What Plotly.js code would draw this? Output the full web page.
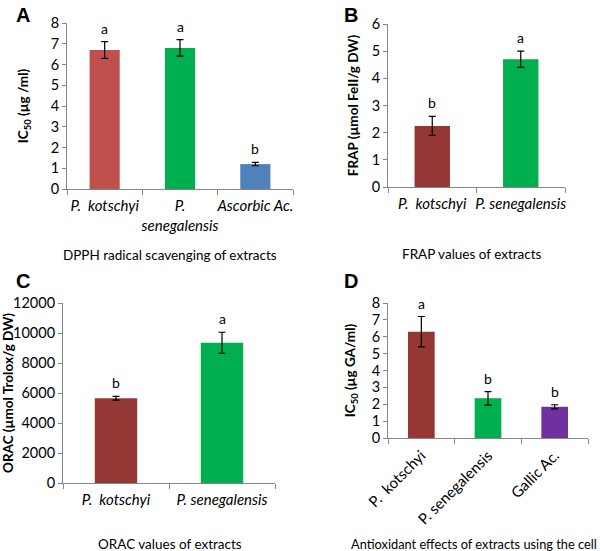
<!DOCTYPE html>
<html><head><meta charset="utf-8">
<script src="https://cdn.plot.ly/plotly-3.0.1.min.js"></script>
<style>html,body{margin:0;padding:0;background:#fff}</style>
</head><body>
<div id="chart" style="width:600px;height:551px"></div>
<script>
// Panel A: DPPH
const catsA = ['P.\u00a0 kotschyi', 'P.<br>senegalensis', 'Ascorbic Ac.'];
const valsA = [6.7, 6.8, 1.2];
const errA = [0.4, 0.4, 0.08];
const lettersA = ['a', 'a', 'b'];
const colorsA = ['#C0504D', '#00B050', '#4F81BD'];
// Panel B: FRAP
const catsB = ['P.\u00a0 kotschyi', 'P. senegalensis'];
const valsB = [2.25, 4.7];
const errB = [0.35, 0.3];
const lettersB = ['b', 'a'];
const colorsB = ['#953735', '#00B050'];
// Panel C: ORAC
const catsC = ['P.\u00a0 kotschyi', 'P. senegalensis'];
const valsC = [5650, 9350];
const errC = [130, 700];
const lettersC = ['b', 'a'];
const colorsC = ['#953735', '#00B050'];
// Panel D: cell antioxidant
const catsD = ['P.\u00a0 kotschyi', 'P. senegalensis', 'Gallic Ac.'];
const valsD = [6.3, 2.35, 1.85];
const errD = [0.9, 0.4, 0.12];
const lettersD = ['a', 'b', 'b'];
const colorsD = ['#953735', '#00B050', '#7030A0'];

const FONT = 'Lato, "Open Sans", sans-serif';
const W = 600, H = 551;
function dx(a, b) { return [a / W, b / W]; }
function dy(top, bottom) { return [1 - bottom / H, 1 - top / H]; }

const panels = [
  {cats: catsA, vals: valsA, err: errA, letters: lettersA, colors: colorsA, xa: 'x', ya: 'y',
   xd: dx(67, 293), yd: dy(23, 189), range: [0, 8], dtick: 1, standoff: 18,
   ytitle: '<b>IC<sub>50</sub> (µg /ml)</b>', tickangle: 0, italic: true},
  {cats: catsB, vals: valsB, err: errB, letters: lettersB, colors: colorsB, xa: 'x2', ya: 'y2',
   xd: dx(388, 565), yd: dy(24, 187), range: [0, 6], dtick: 1, standoff: 9,
   ytitle: '<b>FRAP (µmol FeII/g DW)</b>', tickangle: 0, italic: true},
  {cats: catsC, vals: valsC, err: errC, letters: lettersC, colors: colorsC, xa: 'x3', ya: 'y3',
   xd: dx(63, 275), yd: dy(303, 483), range: [0, 12000], dtick: 2000, standoff: 4,
   ytitle: '<b>ORAC (µmol Trolox/g DW)</b>', tickangle: 0, italic: true},
  {cats: catsD, vals: valsD, err: errD, letters: lettersD, colors: colorsD, xa: 'x4', ya: 'y4',
   xd: dx(388, 588), yd: dy(303, 438), range: [0, 8], dtick: 1, standoff: 12,
   ytitle: '<b>IC<sub>50</sub> (µg GA/ml)</b>', tickangle: -45, italic: false}
];

const data = [];
const layout = {
  width: W, height: H, margin: {l: 0, r: 0, t: 0, b: 0},
  paper_bgcolor: '#fff', plot_bgcolor: '#fff',
  showlegend: false, bargap: 0.6,
  font: {family: FONT, size: 14, color: '#000'},
  annotations: []
};

panels.forEach((p, i) => {
  const n = i === 0 ? '' : String(i + 1);
  data.push({
    type: 'bar', x: p.cats, y: p.vals, xaxis: p.xa, yaxis: p.ya,
    marker: {color: p.colors, line: {width: 0}},
    error_y: {type: 'data', array: p.err, visible: true, color: '#000', thickness: 1.2, width: 3.5},
    hoverinfo: 'skip'
  });
  layout['xaxis' + n] = {
    domain: p.xd, anchor: 'y' + n, type: 'category',
    showline: true, linecolor: '#868686', linewidth: 1,
    ticks: 'outside', tickson: 'boundaries', ticklen: 5, tickcolor: '#868686',
    tickangle: p.tickangle, showgrid: false, zeroline: false,
    ticklabelstandoff: p.italic ? 3 : 2,
    tickfont: {family: FONT, size: 15, style: p.italic ? 'italic' : 'normal', color: '#000'}
  };
  layout['yaxis' + n] = {
    domain: p.yd, anchor: 'x' + n, range: p.range, dtick: p.dtick,
    tickformat: 'd', exponentformat: 'none',
    showline: true, linecolor: '#868686', linewidth: 1,
    ticks: 'outside', ticklen: 4, tickcolor: '#868686',
    showgrid: false, zeroline: false,
    tickfont: {family: FONT, size: 14.5, color: '#000'},
    title: {text: p.ytitle, font: {family: FONT, size: 13.5, color: '#000'}, standoff: p.standoff}
  };
  p.letters.forEach((L, k) => {
    layout.annotations.push({
      xref: p.xa, yref: p.ya, x: p.cats[k], y: p.vals[k] + p.err[k],
      text: L, showarrow: false, yanchor: 'bottom', yshift: 3,
      font: {family: FONT, size: 14, color: '#000'}
    });
  });
});

// panel letters
const panelLetters = [['A', 14, 15], ['B', 342, 15], ['C', 14, 281], ['D', 342, 281]];
panelLetters.forEach(([t, x, y]) => {
  layout.annotations.push({xref: 'paper', yref: 'paper', x: x / W, y: 1 - y / H,
    xanchor: 'left', yanchor: 'middle', text: '<b>' + t + '</b>', showarrow: false,
    font: {family: 'Liberation Sans, Arial, sans-serif', size: 20, color: '#000'}});
});
// captions
const captions = [
  ['DPPH radical scavenging of extracts', 170, 255, 'center', 13.5],
  ['FRAP values of extracts', 472, 254, 'center', 13.5],
  ['ORAC values of extracts', 170, 544, 'center', 13.5],
  ['Antioxidant effects of extracts using the cell', 599, 544, 'right', 12.8]
];
captions.forEach(([t, x, y, a, s]) => {
  layout.annotations.push({xref: 'paper', yref: 'paper', x: x / W, y: 1 - y / H,
    xanchor: a, yanchor: 'middle', text: t, showarrow: false,
    font: {family: FONT, size: s, color: '#000'}});
});

Plotly.newPlot('chart', data, layout, {staticPlot: true, displayModeBar: false});
</script>
</body></html>
